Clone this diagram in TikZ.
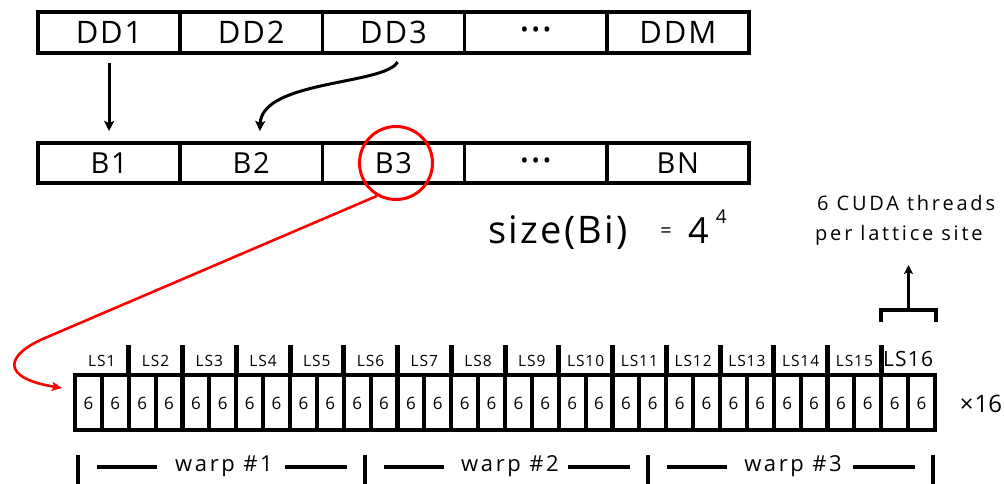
\documentclass[tikz,border=0pt]{standalone}
\usepackage{fontspec}
\setmainfont{Open Sans}
\newfontfamily\handfont[LetterSpace=6]{Open Sans}
\newfontfamily\loosefont[LetterSpace=14]{Open Sans}
\newfontfamily\warpfont[LetterSpace=12]{Open Sans}
\usetikzlibrary{arrows.meta,calc}

\begin{document}
\begin{tikzpicture}[x=1pt,y=-1pt,
  cellbox/.style={draw, line width=3.5pt, minimum width=142.2pt, inner sep=0pt, outer sep=0pt},
  ddlabel/.style={font=\handfont\fontsize{31}{31}\selectfont},
  blabel/.style={font=\handfont\fontsize{29}{29}\selectfont},
  flow/.style={line width=3pt, -{Stealth[length=10pt,width=10pt,inset=2pt]}},
  redflow/.style={draw=red, line width=2.6pt, -{Stealth[length=10pt,width=9pt,inset=2pt]}},
  thick bar/.style={line width=4.5pt},
  lslabel/.style={font=\handfont\fontsize{15.5}{16}\selectfont, inner sep=0pt},
  sixlabel/.style={font=\fontsize{17}{17}\selectfont, inner sep=0pt},
  warplabel/.style={font=\warpfont\fontsize{22}{22}\selectfont, inner sep=0pt},
  note/.style={font=\loosefont\fontsize{20}{20}\selectfont, inner sep=0pt, anchor=base west}
]
\useasboundingbox (0,0) rectangle (1004,484);

% domain decomposition row
\foreach \i/\t in {1/DD1,2/DD2,3/DD3,5/DDM}
  \node[cellbox, ddlabel, minimum height=41pt] (dd\i) at ({38+142.2*(\i-0.5)},32.5) {\t};
\node[cellbox, minimum height=41pt, font=\fontsize{22}{22}\selectfont] (dd4) at ({38+142.2*3.5},32.5) {•\hspace{3pt}•\hspace{3pt}•};

% block row
\foreach \i/\t in {1/B1,2/B2,3/B3,5/BN}
  \node[cellbox, blabel, minimum height=40pt] (b\i) at ({38+142.2*(\i-0.5)},163) {\t};
\node[cellbox, minimum height=40pt, font=\fontsize{22}{22}\selectfont] (b4) at ({38+142.2*3.5},163) {•\hspace{3pt}•\hspace{3pt}•};

% mapping arrows
\draw[flow, shorten <=10pt, shorten >=12pt] (dd1.south) -- (b1.north);
\draw[flow, shorten >=12pt] ([xshift=4pt]dd3.south) ++(0,9) .. controls (385,85) and (262,80) .. ([xshift=8pt]b2.north);

% highlighted block
\node[draw=red, line width=3pt, circle, minimum size=73pt, inner sep=0pt] (ring) at (396,163) {};

% block size
\node[font=\handfont\fontsize{38}{38}\selectfont, inner sep=0pt, anchor=base west] (szlabel) at (488,243) {size(Bi)};
\node[font=\fontsize{20}{20}\selectfont, inner sep=0pt] (szeq) at (666,233) {=};
\node[font=\fontsize{36}{36}\selectfont, inner sep=0pt, anchor=base west] (szval) at (688,243) {4\hspace{7pt}\raisebox{20pt}{\fontsize{19}{19}\selectfont 4}};

% threads per site note
\node[note] (cuda1) at (817,210) {6 CUDA threads};
\node[note] (cuda2) at (815,240) {per lattice site};

% lattice sites and their threads
\node[draw, thick bar, minimum width=860pt, minimum height=55pt, inner sep=0pt, outer sep=0pt] (sites) at (505,402.5) {};
\foreach \k in {1,...,31}
  \draw[line width=4.2pt] ({75+26.875*\k},375) -- ++(0,55);
\foreach \k in {1,...,15}
  \draw[line width=5pt] ({75+53.75*\k},345) -- ++(0,30);
\foreach \k in {0,...,31}
  \node[sixlabel] (t\k) at ({75+26.875*(\k+0.5)},403) {6};
\foreach \j in {1,...,15}
  \node[lslabel] (ls\j) at ({75+53.75*(\j-0.5)},361) {LS\j};
\node[lslabel, font=\handfont\fontsize{21}{21}\selectfont] (ls16) at ({75+53.75*15.5},359) {LS16};
\node[font=\fontsize{24}{24}\selectfont, inner sep=0pt] (times) at (981,404) {{\fontsize{24}{24}\selectfont ×}\hspace{1pt}16};

% red pointer from the chosen block to the site layout
\coordinate (bend) at (45,338);
\coordinate (redtip) at (62,388);
\draw[redflow] (ring.240) -- (bend) .. controls (5,355) and (0,378) .. (redtip);

% bracket over the last site
\coordinate (brL) at (881,322);
\coordinate (brR) at (936,322);
\coordinate (brmid) at (908.5,310);
\coordinate (cudatip) at (908.5,265);
\draw[line width=4pt] (brL) -- ++(0,-12) -| (brR);
\draw[flow, -{Stealth[length=9pt,width=9pt,inset=2pt]}] (brmid) -- (cudatip);

% warps
\foreach \n/\x in {0/78,1/365,2/648,3/933}
  \coordinate (bar\n) at (\x,467);
\foreach \n in {0,...,3}
  \draw[thick bar] (bar\n) ++(0,-12) -- ++(0,45);
\node[warplabel] (w1) at (224,466) {warp \#1};
\node[warplabel] (w2) at (510,466) {warp \#2};
\node[warplabel] (w3) at (793,466) {warp \#3};
\foreach \a/\b in {0/1,1/2,2/3}{
  \draw[thick bar] (bar\a) ++(19,0) -- ++(60,0);
  \draw[thick bar] (bar\b) ++(-80,0) -- ++(62,0);
}
\end{tikzpicture}
\end{document}
